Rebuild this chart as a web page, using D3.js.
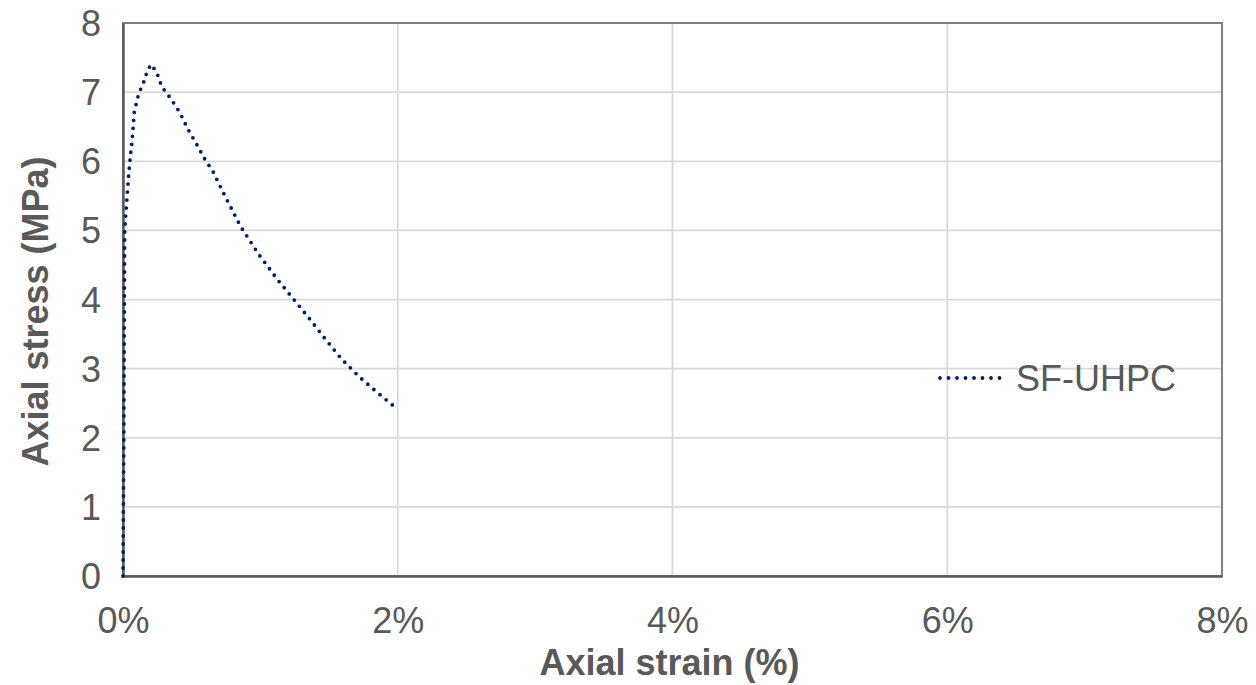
<!DOCTYPE html>
<html>
<head>
    <meta charset="utf-8">
    <title>Axial stress-strain</title>
    <style type="text/css">
        body { margin: 0; background: #fff; }
        svg text { font-family: "Liberation Sans", Arial, sans-serif; fill: #595959; }
    </style>
</head>
<body>
<div id="chart"></div>
<script src="https://cdn.jsdelivr.net/npm/d3@7"></script>
<script type="text/javascript">
    // data (strain in %, stress in MPa)
    var strain = [0, 0.003, 0.006, 0.008, 0.010, 0.012, 0.020, 0.034, 0.049, 0.068, 0.082, 0.112, 0.136, 0.158, 0.175, 0.204,
        0.245, 0.282, 0.35, 0.415, 0.471, 0.532, 0.593, 0.658, 0.714, 0.770, 0.855, 0.989, 1.132, 1.248, 1.362, 1.472,
        1.586, 1.715, 1.848, 2.0];
    var stress = [0, 1.0, 2.0, 3.0, 4.0, 4.98, 5.23, 5.61, 5.98, 6.34, 6.71, 6.96, 7.08, 7.18, 7.30, 7.40,
        7.29, 7.08, 6.90, 6.70, 6.47, 6.26, 6.04, 5.84, 5.61, 5.39, 5.06, 4.65, 4.27, 3.99, 3.71, 3.43,
        3.15, 2.89, 2.66, 2.41];
    var seriesName = "SF-UHPC";
    var xTicks = [0, 2, 4, 6, 8];
    var yTicks = [0, 1, 2, 3, 4, 5, 6, 7, 8];

    var W = 1256, H = 685;
    var pLeft = 123, pRight = 1222, pTop = 23, pBottom = 576;

    var svg = d3.select('#chart').append('svg')
        .attr('width', W)
        .attr('height', H);

    var x = d3.scaleLinear().domain([0, 8]).range([pLeft, pRight]);
    var y = d3.scaleLinear().domain([0, 8]).range([pBottom, pTop]);

    // gridlines
    svg.append('g').selectAll('line')
        .data(xTicks.slice(1))
        .enter().append('line')
        .attr('x1', function (d) { return x(d); })
        .attr('x2', function (d) { return x(d); })
        .attr('y1', pTop).attr('y2', pBottom)
        .attr('stroke', '#d9d9d9').attr('stroke-width', 1.75);

    svg.append('g').selectAll('line')
        .data(yTicks.slice(1))
        .enter().append('line')
        .attr('x1', pLeft).attr('x2', pRight)
        .attr('y1', function (d) { return y(d); })
        .attr('y2', function (d) { return y(d); })
        .attr('stroke', '#d9d9d9').attr('stroke-width', 1.75);

    // plot border
    svg.append('rect')
        .attr('x', pLeft).attr('y', pTop)
        .attr('width', pRight - pLeft).attr('height', pBottom - pTop)
        .attr('fill', 'none').attr('stroke', '#808080').attr('stroke-width', 2);

    // axes
    var xAxis = d3.axisBottom(x).tickValues(xTicks).tickSize(0).tickPadding(0)
        .tickFormat(function (d) { return d + '%'; });
    var gx = svg.append('g').attr('transform', 'translate(0,' + pBottom + ')').call(xAxis);
    gx.select('.domain').attr('stroke', '#595959').attr('stroke-width', 2.5);
    gx.selectAll('text')
        .attr('dy', null).attr('y', 57)
        .style('font-size', '36px');

    var yAxis = d3.axisLeft(y).tickValues(yTicks).tickSize(0).tickPadding(0);
    var gy = svg.append('g').attr('transform', 'translate(' + pLeft + ',0)').call(yAxis);
    gy.select('.domain').attr('stroke', '#595959').attr('stroke-width', 2.5);
    gy.selectAll('text')
        .attr('x', -22)
        .attr('dy', '0.35em')
        .style('font-size', '36px');
    svg.selectAll('.tick text').attr('fill', '#595959').attr('font-family', null);

    // axis titles
    svg.append('text')
        .attr('x', (pLeft + pRight) / 2 - 3)
        .attr('y', 675)
        .attr('text-anchor', 'middle')
        .style('font-size', '36px').style('font-weight', 'bold')
        .text('Axial strain (%)');

    svg.append('text')
        .attr('transform', 'translate(48,' + ((pTop + pBottom) / 2 + 12) + ') rotate(-90)')
        .attr('text-anchor', 'middle')
        .style('font-size', '36px').style('font-weight', 'bold')
        .text('Axial stress (MPa)');

    // the curve, round dots
    var pts = strain.map(function (d, i) { return [d, stress[i]]; });
    var line = d3.line()
        .x(function (d) { return x(d[0]); })
        .y(function (d) { return y(d[1]); });

    svg.append('path')
        .datum(pts)
        .attr('d', line)
        .attr('fill', 'none')
        .attr('stroke', '#002060')
        .attr('stroke-width', 3.8)
        .attr('stroke-linecap', 'round')
        .attr('stroke-dasharray', '0 8');

    // legend
    var lg = svg.append('g').attr('transform', 'translate(940,378)');
    lg.append('line')
        .attr('x1', 0).attr('x2', 62)
        .attr('y1', 0).attr('y2', 0)
        .attr('stroke', '#002060')
        .attr('stroke-width', 3.8)
        .attr('stroke-linecap', 'round')
        .attr('stroke-dasharray', '0 8.5');
    lg.append('text')
        .attr('x', 76).attr('y', 13)
        .style('font-size', '36px')
        .text(seriesName);
</script>
</body>
</html>
